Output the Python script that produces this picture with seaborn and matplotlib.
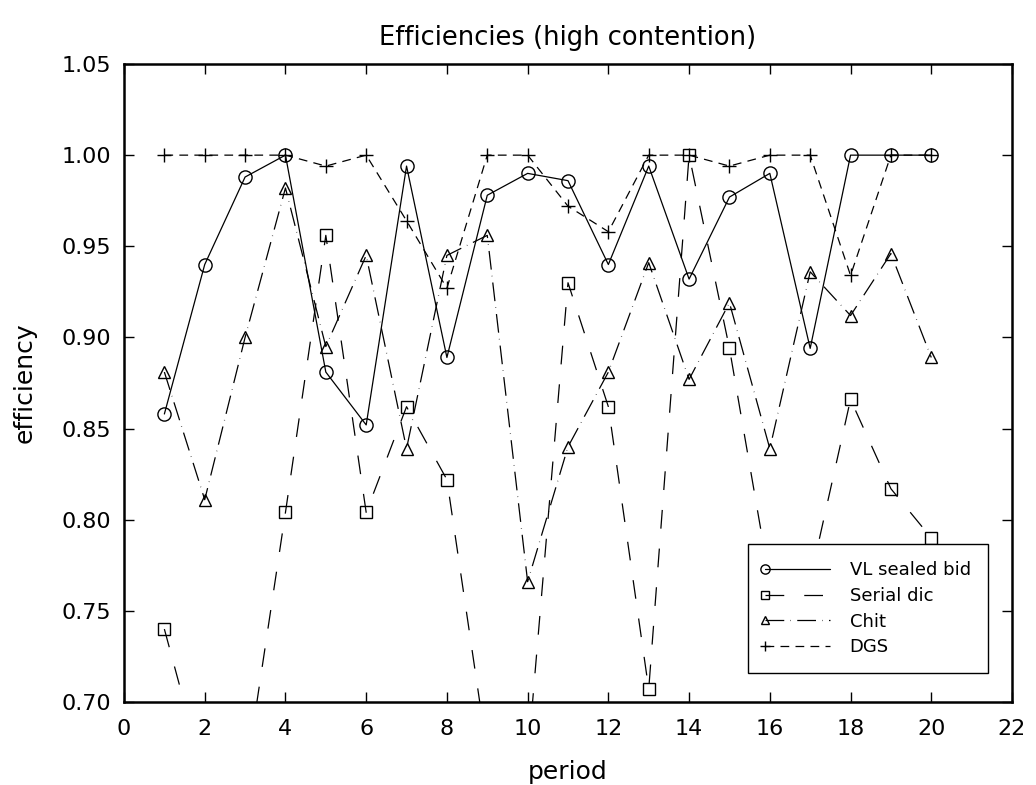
import numpy as np
import pandas as pd
import matplotlib
matplotlib.use("Agg")
import matplotlib.pyplot as plt
import seaborn as sns
from matplotlib.legend_handler import HandlerLine2D

periods = list(range(1, 21))
vl_sealed_bid = [0.858, 0.940, 0.988, 1.000, 0.881, 0.852, 0.994, 0.889, 0.978, 0.990,
                 0.986, 0.940, 0.994, 0.932, 0.977, 0.990, 0.894, 1.000, 1.000, 1.000]
serial_dic = [0.740, 0.658, 0.657, 0.804, 0.956, 0.804, 0.862, 0.822, 0.672, 0.668,
              0.930, 0.862, 0.707, 1.000, 0.894, 0.766, 0.767, 0.866, 0.817, 0.790]
chit = [0.881, 0.811, 0.900, 0.982, 0.895, 0.945, 0.839, 0.945, 0.956, 0.766,
        0.840, 0.881, 0.941, 0.877, 0.919, 0.839, 0.936, 0.912, 0.946, 0.889]
dgs = [1.000, 1.000, 1.000, 1.000, 0.994, 1.000, 0.964, 0.927, 1.000, 1.000,
       0.972, 0.958, 1.000, 1.000, 0.994, 1.000, 1.000, 0.934, 1.000, 1.000]
series_names = ["VL sealed bid", "Serial dic", "Chit", "DGS"]

sns.set_theme(style="ticks")
plt.rcParams["font.family"] = ["DejaVu Sans"]
plt.rcParams["text.color"] = "black"
plt.rcParams["axes.labelcolor"] = "black"
plt.rcParams["xtick.color"] = "black"
plt.rcParams["ytick.color"] = "black"

fig = plt.figure(figsize=(10.36, 7.85), dpi=100)
ax = fig.add_axes([124 / 1036, 1 - 702 / 785, (1012 - 124) / 1036, (702 - 64) / 785])

styles = {
    "VL sealed bid": dict(marker="o", markersize=9.5, linestyle="-"),
    "Serial dic": dict(marker="s", markersize=8, linestyle=(0, (15, 16))),
    "Chit": dict(marker="^", markersize=9, linestyle=(0, (15, 5, 0.4, 5))),
    "DGS": dict(marker="+", markersize=10, linestyle=(0, (7, 5))),
}
values = [vl_sealed_bid, serial_dic, chit, dgs]

for name, vals in zip(series_names, values):
    st = styles[name]
    sns.lineplot(x=periods, y=vals, ax=ax, color="black", linewidth=0.9,
                 marker=st["marker"], markersize=st["markersize"],
                 markerfacecolor="none", markeredgecolor="black",
                 markeredgewidth=1.0, linestyle=st["linestyle"],
                 label=name, legend=False, clip_on=True)

ax.set_xlim(0, 22)
ax.set_ylim(0.70, 1.05)
ax.set_xticks(np.arange(0, 23, 2))
ax.set_yticks(np.arange(0.70, 1.051, 0.05))
ax.set_yticklabels([f"{v:.2f}" for v in np.arange(0.70, 1.051, 0.05)])
ax.tick_params(direction="in", length=7, width=1.0, top=True, right=True,
               labelsize=16, colors="black")
ax.tick_params(axis="y", pad=9)
ax.tick_params(axis="x", pad=12)
for sp in ax.spines.values():
    sp.set_linewidth(1.8)
    sp.set_color("black")

ax.set_xlabel("period", fontsize=18, labelpad=15, color="black")
ax.set_ylabel("efficiency", fontsize=18, labelpad=18, color="black")
ax.set_title("Efficiencies (high contention)", fontsize=18.5, pad=14, color="black")


class LeftMarkerHandler(HandlerLine2D):
    def create_artists(self, legend, orig_handle, xdescent, ydescent, width,
                       height, fontsize, trans):
        artists = super().create_artists(legend, orig_handle, xdescent, ydescent,
                                         width, height, fontsize, trans)
        for a in artists:
            if hasattr(a, "set_markevery"):
                a.set_markevery([0])
        return artists


handles = ax.get_lines()[:4]
leg = ax.legend(handles=handles, labels=series_names, loc="lower right",
                bbox_to_anchor=(0.973, 0.045), borderaxespad=0,
                fontsize=13, frameon=True, fancybox=False, framealpha=1,
                edgecolor="black", handlelength=3.6, handletextpad=1.1,
                labelspacing=0.42, borderpad=0.95, numpoints=1,
                markerscale=0.7,
                handler_map={h: LeftMarkerHandler(numpoints=1) for h in handles})
leg.get_frame().set_linewidth(1.0)
for t in leg.get_texts():
    t.set_color("black")

fig.savefig("out.png", dpi=100)
